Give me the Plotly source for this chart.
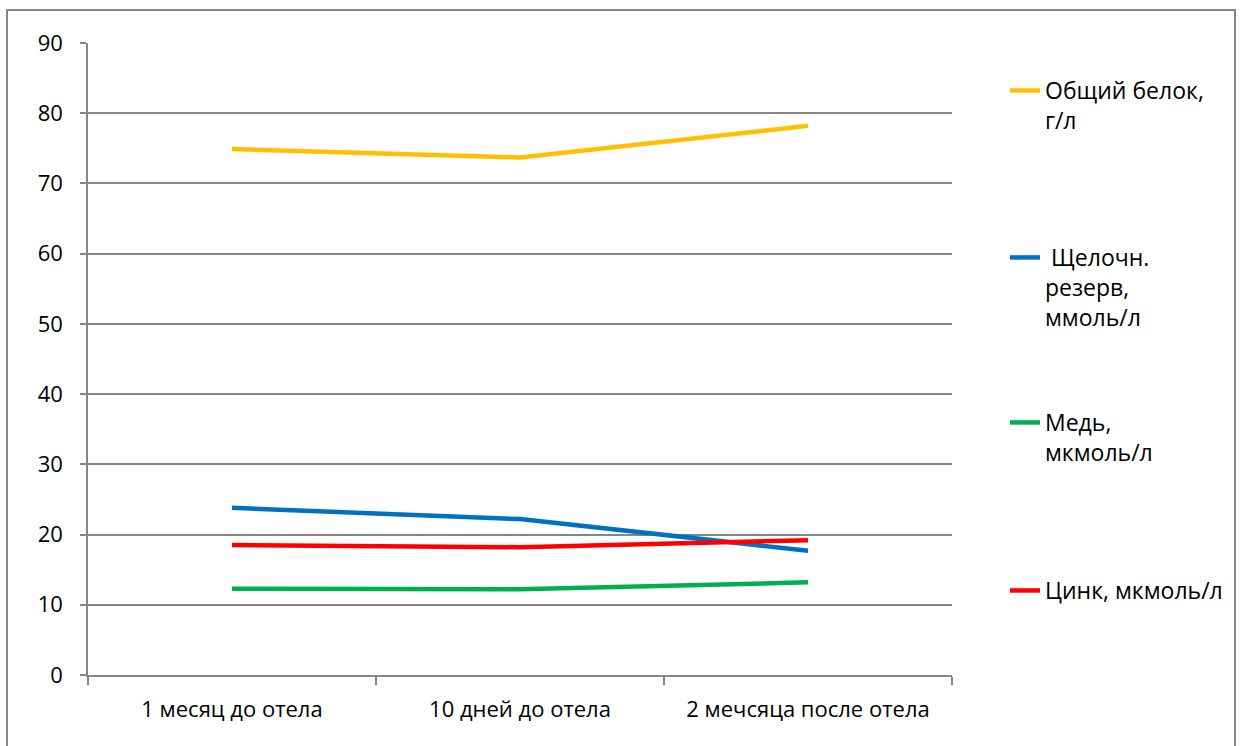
import plotly.graph_objects as go

categories = ["1 месяц до отела", "10 дней до отела", "2 мечсяца после отела"]
series_names = ["Общий белок,<br>г/л", " Щелочн.<br>резерв,<br>ммоль/л", "Медь,<br>мкмоль/л", "Цинк, мкмоль/л"]
protein = [74.9, 73.7, 78.2]
alkaline = [23.8, 22.2, 17.7]
copper = [12.3, 12.2, 13.2]
zinc = [18.5, 18.2, 19.2]
colors = ["#FFC000", "#0070C0", "#00B050", "#FF0000"]
y_ticks = [0, 10, 20, 30, 40, 50, 60, 70, 80, 90]

W, H = 1246, 746
ML, MR, MT, MB = 88, 294, 43, 71
PW, PH = W - ML - MR, H - MT - MB

def px_x(p):
    return (p - ML) / PW

def px_y(p):
    return (H - MB - p) / PH

font_family = "Open Sans, Noto Sans, sans-serif"

fig = go.Figure()
legend_ids = ["legend", "legend2", "legend3", "legend4"]
legend_tops = [69, 236, 401, 569]
for name, vals, col, lg in zip(series_names, [protein, alkaline, copper, zinc], colors, legend_ids):
    fig.add_trace(go.Scatter(
        x=categories, y=vals, mode="lines", name=name,
        line=dict(color=col, width=4.5), legend=lg,
    ))

layout_legends = {}
for lg, top in zip(legend_ids, legend_tops):
    layout_legends[lg] = dict(
        x=px_x(1005), y=px_y(top), xanchor="left", yanchor="top",
        valign="top", bgcolor="rgba(0,0,0,0)",
        font=dict(family=font_family, size=23, color="#000000"),
    )

fig.update_layout(
    width=W, height=H,
    margin=dict(l=ML, r=MR, t=MT, b=MB, pad=0),
    paper_bgcolor="white", plot_bgcolor="white",
    font=dict(family=font_family, size=22, color="#000000"),
    showlegend=True,
    xaxis=dict(
        type="category", range=[-0.5, 2.5], showgrid=False,
        showline=True, linecolor="#868686", linewidth=1.5,
        ticks="outside", tickson="boundaries", ticklen=8, tickcolor="#868686", tickwidth=1.5,
        tickfont=dict(family=font_family, size=22, color="#000000"),
        ticklabelstandoff=14,
    ),
    yaxis=dict(
        range=[0, 90], tickvals=y_ticks, showgrid=True, gridcolor="#868686", gridwidth=1.5,
        showline=True, linecolor="#868686", linewidth=1.5,
        ticks="outside", ticklen=6, tickcolor="#868686", tickwidth=1.5,
        tickfont=dict(family=font_family, size=22, color="#000000"),
        ticklabelstandoff=13, zeroline=False,
    ),
    shapes=[dict(
        type="rect", xref="paper", yref="paper",
        x0=px_x(7), x1=px_x(1235), y0=px_y(760), y1=px_y(10),
        line=dict(color="#868686", width=2), fillcolor="rgba(0,0,0,0)", layer="below",
    )],
    **layout_legends,
)

fig.write_html("out.html")
